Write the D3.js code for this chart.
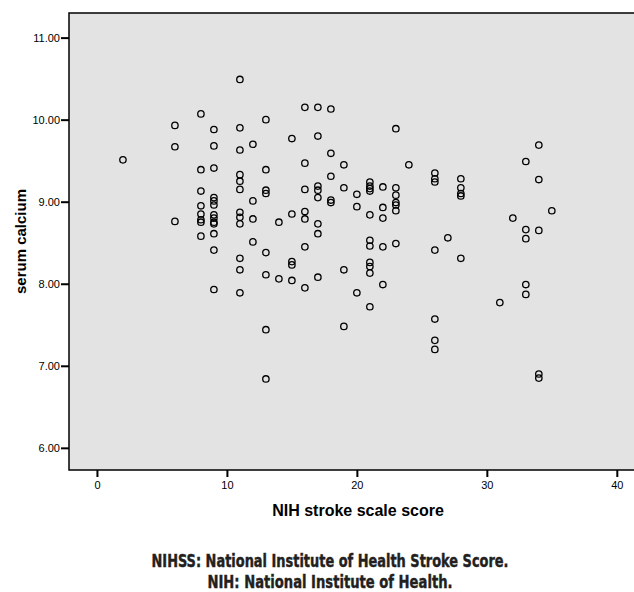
<!DOCTYPE html>
<html>
<head>
<meta charset="utf-8">
<script src="https://cdn.jsdelivr.net/npm/d3@7"></script>
<style>
  body { margin: 0; background: #fff; }
  svg { display: block; }
</style>
</head>
<body>
<div id="chart"></div>
<script>
// NIH stroke scale score (x) and serum calcium (y)
let nihss = [
    2,
    6, 6, 6,
    8, 8, 8, 8, 8, 8, 8, 8,
    9, 9, 9, 9, 9, 9, 9, 9, 9, 9, 9, 9, 9,
    11, 11, 11, 11, 11, 11, 11, 11, 11, 11, 11, 11,
    12, 12, 12, 12,
    13, 13, 13, 13, 13, 13, 13, 13,
    14, 14,
    15, 15, 15, 15, 15,
    16, 16, 16, 16, 16, 16, 16,
    17, 17, 17, 17, 17, 17, 17, 17,
    18, 18, 18, 18, 18,
    19, 19, 19, 19,
    20, 20, 20,
    21, 21, 21, 21, 21, 21, 21, 21, 21, 21, 21,
    22, 22, 22, 22, 22,
    23, 23, 23, 23, 23, 23, 23,
    24,
    26, 26, 26, 26, 26, 26, 26,
    27,
    28, 28, 28, 28, 28,
    31,
    32,
    33, 33, 33, 33, 33,
    34, 34, 34, 34, 34,
    35
];
let calcium = [
    9.51,
    9.93, 9.67, 8.76,
    10.07, 9.39, 9.13, 8.95, 8.85, 8.78, 8.75, 8.58,
    9.88, 9.68, 9.41, 9.05, 9.01, 8.96, 8.84, 8.80, 8.75, 8.73, 8.61, 8.41, 7.93,
    10.49, 9.90, 9.63, 9.33, 9.25, 9.15, 8.87, 8.81, 8.73, 8.31, 8.17, 7.89,
    9.70, 9.01, 8.79, 8.51,
    10.00, 9.39, 9.14, 9.10, 8.38, 8.11, 7.44, 6.84,
    8.75, 8.06,
    9.77, 8.85, 8.27, 8.23, 8.04,
    10.15, 9.47, 9.15, 8.88, 8.79, 8.45, 7.95,
    10.15, 9.80, 9.19, 9.14, 9.05, 8.73, 8.61, 8.08,
    10.13, 9.59, 9.31, 9.02, 8.99,
    9.45, 9.17, 8.17, 7.48,
    9.09, 8.94, 7.89,
    9.24, 9.19, 9.16, 9.13, 8.84, 8.53, 8.46, 8.26, 8.21, 8.13, 7.72,
    9.18, 8.93, 8.80, 8.45, 7.99,
    9.89, 9.17, 9.08, 8.99, 8.96, 8.89, 8.49,
    9.45,
    9.35, 9.28, 9.24, 8.41, 7.57, 7.31, 7.20,
    8.56,
    9.28, 9.17, 9.10, 9.07, 8.31,
    7.77,
    8.80,
    9.49, 8.66, 8.55, 7.99, 7.87,
    9.69, 9.27, 8.65, 6.90, 6.85,
    8.89
];
let xTicks = [0, 10, 20, 30, 40];
let yTicks = [6, 7, 8, 9, 10, 11];
let captions = [
    'NIHSS: National Institute of Health Stroke Score.',
    'NIH: National Institute of Health.'
];
let captionWidths = [357, 245];

let width = 634;
let height = 592;
let plot = { left: 69, top: 13, right: 648, bottom: 470 };

let svg = d3.select('#chart').append('svg')
    .attr('width', width)
    .attr('height', height);

let xScale = d3.scaleLinear()
    .domain([-2.15, 42.4])
    .range([plot.left, plot.right]);
let yScale = d3.scaleLinear()
    .domain([5.73, 11.3])
    .range([plot.bottom, plot.top]);

// plot background + frame
svg.append('rect')
    .attr('x', plot.left)
    .attr('y', plot.top)
    .attr('width', plot.right - plot.left)
    .attr('height', plot.bottom - plot.top)
    .style('fill', '#e3e3e3')
    .style('stroke', '#000')
    .style('stroke-width', 1.5);

let yAxis = d3.axisLeft(yScale)
    .tickValues(yTicks)
    .tickFormat(d3.format('.2f'))
    .tickSize(8)
    .tickSizeOuter(0)
    .tickPadding(1);
let xAxis = d3.axisBottom(xScale)
    .tickValues(xTicks)
    .tickFormat(d3.format('d'))
    .tickSize(7)
    .tickSizeOuter(0)
    .tickPadding(4);

let yG = svg.append('g')
    .attr('transform', 'translate(' + plot.left + ',0)')
    .call(yAxis);
let xG = svg.append('g')
    .attr('transform', 'translate(0,' + plot.bottom + ')')
    .call(xAxis);

[xG, yG].forEach(function (g) {
    g.select('.domain').remove();
    g.selectAll('.tick line').style('stroke', '#000').style('stroke-width', 2);
    g.selectAll('.tick text')
        .style('font-family', 'Arial, "Liberation Sans", sans-serif')
        .style('font-size', '11px')
        .style('fill', '#000');
});

// points
let pts = nihss.map(function (s, i) { return { s: s, v: calcium[i] }; });
svg.append('g').selectAll('circle')
    .data(pts)
    .enter().append('circle')
    .attr('cx', function (d) { return xScale(d.s); })
    .attr('cy', function (d) { return yScale(d.v); })
    .attr('r', 3.2)
    .style('fill', 'none')
    .style('stroke', '#000')
    .style('stroke-width', 1.3);

// axis titles
svg.append('text')
    .attr('x', 358)
    .attr('y', 516)
    .attr('text-anchor', 'middle')
    .style('font-family', 'Arial, "Liberation Sans", sans-serif')
    .style('font-weight', 'bold')
    .style('font-size', '16px')
    .text('NIH stroke scale score');

svg.append('text')
    .attr('transform', 'translate(26,' + ((plot.top + plot.bottom) / 2) + ') rotate(-90)')
    .attr('text-anchor', 'middle')
    .style('font-family', 'Arial, "Liberation Sans", sans-serif')
    .style('font-weight', 'bold')
    .style('font-size', '15px')
    .text('serum calcium');

// footnotes (condensed bold face, squeezed to the reference width)
svg.append('g').selectAll('text')
    .data(captions)
    .enter().append('text')
    .attr('x', 330)
    .attr('y', function (d, i) { return 567 + i * 21; })
    .attr('text-anchor', 'middle')
    .attr('textLength', function (d, i) { return captionWidths[i]; })
    .attr('lengthAdjust', 'spacingAndGlyphs')
    .style('font-family', '"Liberation Sans Narrow", "DejaVu Sans Condensed", sans-serif')
    .style('font-weight', 'bold')
    .style('font-size', '17px')
    .style('fill', '#231f20')
    .style('stroke', '#231f20')
    .style('stroke-width', 0.4)
    .text(function (d) { return d; });
</script>
</body>
</html>
